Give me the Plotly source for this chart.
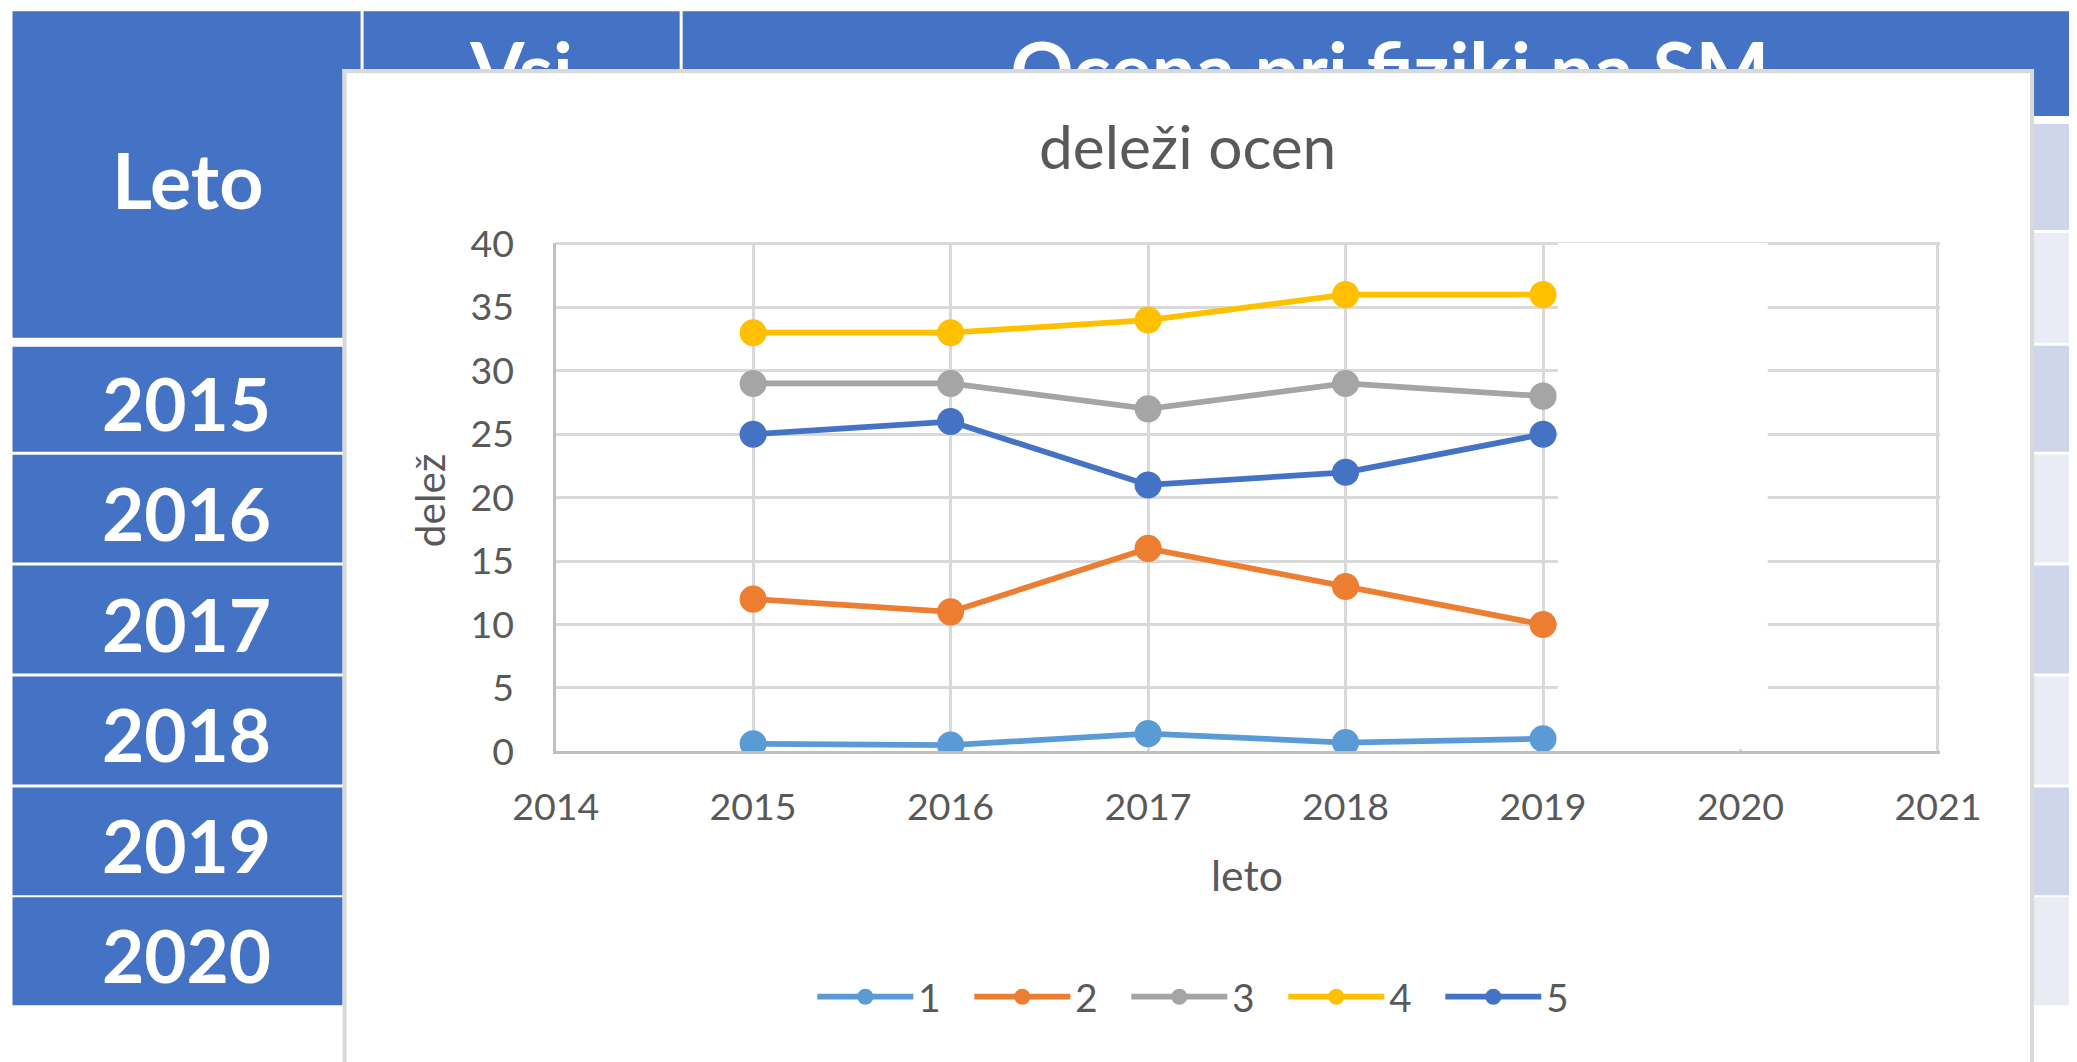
import plotly.graph_objects as go

# The viewer shows the page scaled by S about a fixed point; these constants
# map reference-picture pixels to page pixels so the result lines up.
S = 0.96
CX, CY = 41.8, 22.2
OFF = 8  # body margin


def fx(r):
    return (r - CX) / S - OFF


def fy(r):
    return (r - CY) / S - OFF


def z(v):
    return v / S


W = int(round(fx(2077)))
H = int(round(fy(1062)))

# ---- data ----
years = [2015, 2016, 2017, 2018, 2019]
grade_names = ["1", "2", "3", "4", "5"]
share_1 = [0.6, 0.5, 1.4, 0.7, 1.0]
share_2 = [12, 11, 16, 13, 10]
share_3 = [29, 29, 27, 29, 28]
share_4 = [33, 33, 34, 36, 36]
share_5 = [25, 26, 21, 22, 25]
x_ticks = [2014, 2015, 2016, 2017, 2018, 2019, 2020, 2021]
y_ticks = [0, 5, 10, 15, 20, 25, 30, 35, 40]

table_years = ["2015", "2016", "2017", "2018", "2019", "2020"]
header_left = "Leto"
header_mid = "Vsi"
header_right = "Ocena pri fiziki na SM"

chart_title = "deleži ocen"
x_title = "leto"
y_title = "delež"

# ---- styles ----
series_colors = ["#5B9BD5", "#ED7D31", "#A5A5A5", "#FFC000", "#4472C4"]
TXT = "#595959"
GRID = "#D9D9D9"
AXL = "#BFBFBF"
BLUE = "#4472C4"
BAND_D = "#CFD5EA"
BAND_L = "#E9EBF5"
FONT = "Lato"


def px(r):
    return fx(r) / W


def py(r):
    return 1 - fy(r) / H


fig = go.Figure()

series = [share_1, share_2, share_3, share_4, share_5]
for name, vals, col in zip(grade_names, series, series_colors):
    fig.add_trace(go.Scatter(
        x=years, y=vals, name=name, mode="lines+markers",
        line=dict(color=col, width=z(5.5)),
        marker=dict(color=col, size=z(26)),
        xaxis="x", yaxis="y",
    ))

# clipped header text behind the chart box (top strip subplot, reference-pixel units)
fig.add_trace(go.Scatter(
    x=[520, 1388], y=[-78, -78], mode="text",
    text=[header_mid, header_right],
    textposition="middle center",
    textfont=dict(family=FONT, size=z(75), color="white", weight="bold"),
    cliponaxis=True, showlegend=False, hoverinfo="skip",
    xaxis="x2", yaxis="y2",
))

shapes = []


def rect(x0, y0, x1, y1, fill):
    shapes.append(dict(
        type="rect", xref="paper", yref="paper", layer="below",
        x0=px(x0), x1=px(x1), y0=py(y1), y1=py(y0),
        fillcolor=fill, line=dict(width=0),
    ))


def hline(x0, x1, y, col, w):
    shapes.append(dict(type="line", xref="paper", yref="paper", layer="below",
                       x0=px(x0), x1=px(x1), y0=py(y), y1=py(y),
                       line=dict(color=col, width=z(w))))


def vline(x, y0, y1, col, w):
    shapes.append(dict(type="line", xref="paper", yref="paper", layer="below",
                       x0=px(x), x1=px(x), y0=py(y0), y1=py(y1),
                       line=dict(color=col, width=z(w))))


# table header
rect(11, 10, 359, 337, BLUE)
rect(362, 10, 678, 337, BLUE)
rect(681, 10, 2080, 115, BLUE)
# right banded rows
bands = [(123, 229), (232, 342), (345, 451), (454, 562), (565, 673),
         (676, 784), (787, 895), (897, 1005)]
for i, (a, b) in enumerate(bands):
    rect(681, a, 2080, b, BAND_D if i % 2 == 0 else BAND_L)
# year cells
year_rows = [(346, 451), (454, 562), (565, 673), (676, 784), (787, 895), (897, 1005)]
for a, b in year_rows:
    rect(11, a, 359, b, BLUE)
# chart box (continues below the picture)
rect(341, 68, 2032, 1064, "white")
vline(343, 68, 1064, GRID, 4)
vline(2030, 68, 1064, GRID, 4)
hline(341, 2032, 70, GRID, 4)

# white patch hiding gridlines between 2019 and 2020
shapes.append(dict(type="rect", xref="x", yref="y", layer="above",
                   x0=2019.075, x1=2020.138, y0=0.2, y1=40.5,
                   fillcolor="white", line=dict(width=0)))

annotations = []
annotations.append(dict(text=header_left, x=px(186), y=py(178), xref="paper", yref="paper",
                        showarrow=False, xanchor="center", yanchor="middle",
                        font=dict(family=FONT, size=z(74), color="white", weight="bold")))
for t, (a, b) in zip(table_years, year_rows):
    annotations.append(dict(text=t, x=px(185), y=py((a + b) / 2 + 4), xref="paper", yref="paper",
                            showarrow=False, xanchor="center", yanchor="middle",
                            font=dict(family=FONT, size=z(70), color="white", weight="bold")))
annotations.append(dict(text=chart_title, x=px(1186), y=py(144), xref="paper", yref="paper",
                        showarrow=False, xanchor="center", yanchor="middle",
                        font=dict(family=FONT, size=z(58), color=TXT)))
annotations.append(dict(text=y_title, x=px(428), y=py(500), xref="paper", yref="paper",
                        showarrow=False, xanchor="center", yanchor="middle", textangle=-90,
                        font=dict(family=FONT, size=z(39), color=TXT)))
annotations.append(dict(text=x_title, x=px(1245), y=py(874), xref="paper", yref="paper",
                        showarrow=False, xanchor="center", yanchor="middle",
                        font=dict(family=FONT, size=z(41), color=TXT)))

x_dom = [px(554), px(554 + 7.01 * 197.43)]
y_dom = [py(751), py(751 - 40.1 * 12.7)]

fig.update_layout(
    width=W, height=H,
    margin=dict(l=0, r=0, t=0, b=0),
    paper_bgcolor="white",
    plot_bgcolor="rgba(0,0,0,0)",
    shapes=shapes,
    annotations=annotations,
    showlegend=True,
    legend=dict(orientation="h", x=px(1203), xanchor="center", y=py(997), yanchor="middle",
                font=dict(family=FONT, size=z(37), color=TXT), bgcolor="rgba(0,0,0,0)",
                itemwidth=96, entrywidth=46, entrywidthmode="pixels"),
    xaxis=dict(domain=x_dom, range=[2014, 2021.01], tickvals=x_ticks,
               showgrid=True, gridcolor=GRID, gridwidth=z(3),
               showline=True, linecolor=AXL, linewidth=z(3), zeroline=False,
               ticks="outside", ticklen=20.5, tickcolor="rgba(0,0,0,0)",
               tickfont=dict(family=FONT, size=z(36), color=TXT), fixedrange=True),
    yaxis=dict(domain=y_dom, range=[0, 40.1], tickvals=y_ticks,
               showgrid=True, gridcolor=GRID, gridwidth=z(3),
               showline=True, linecolor=AXL, linewidth=z(3), zeroline=False,
               ticks="outside", ticklen=31, tickcolor="rgba(0,0,0,0)",
               tickfont=dict(family=FONT, size=z(36), color=TXT), fixedrange=True),
    xaxis2=dict(domain=[0, 1], range=[CX + S * OFF, CX + S * (W + OFF)],
                visible=False, fixedrange=True, anchor="y2"),
    yaxis2=dict(domain=[py(68), 1], range=[-68, -(CY + S * OFF)],
                visible=False, fixedrange=True, anchor="x2"),
)

fig.write_html("out.html")
